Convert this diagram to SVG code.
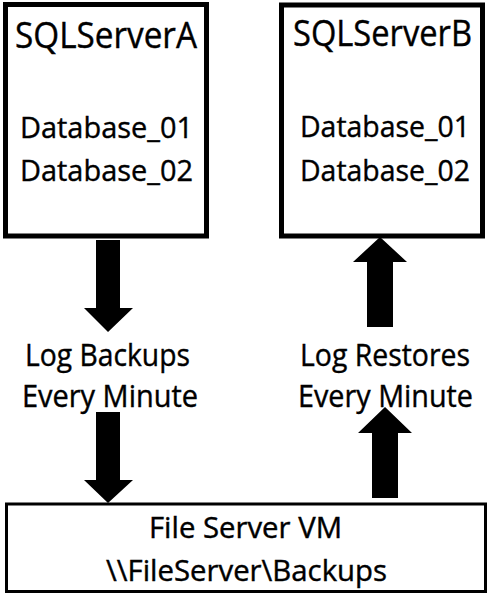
<svg xmlns="http://www.w3.org/2000/svg" width="488" height="595" viewBox="0 0 488 595">
<style>
.box{fill:#fff;stroke:#000}
.t{font-family:"Open Sans","Noto Sans",sans-serif;fill:#000;stroke:#000;stroke-width:0.4}
.arrow{fill:#000}
</style>
<rect width="488" height="595" fill="#fff"/>
<g id="sqlA">
<rect class="box" x="5.5" y="4.5" width="201" height="231.5" stroke-width="5"/>
<text class="t" x="15" y="48" font-size="36" textLength="182" lengthAdjust="spacingAndGlyphs">SQLServerA</text>
<text class="t" x="20" y="138" font-size="30" textLength="173" lengthAdjust="spacingAndGlyphs">Database_01</text>
<text class="t" x="20" y="181" font-size="30" textLength="173" lengthAdjust="spacingAndGlyphs">Database_02</text>
</g>
<g id="sqlB">
<rect class="box" x="281.5" y="5" width="201" height="231" stroke-width="5"/>
<text class="t" x="293" y="46" font-size="36" textLength="179" lengthAdjust="spacingAndGlyphs">SQLServerB</text>
<text class="t" x="300" y="137" font-size="30" textLength="170" lengthAdjust="spacingAndGlyphs">Database_01</text>
<text class="t" x="300" y="181" font-size="30" textLength="170" lengthAdjust="spacingAndGlyphs">Database_02</text>
</g>
<g id="fileserver">
<rect class="box" x="6.5" y="504" width="479" height="87.5" stroke-width="3"/>
<text class="t" x="149" y="538" font-size="28.5" textLength="193" lengthAdjust="spacingAndGlyphs">File Server VM</text>
<text class="t" x="106" y="581" font-size="28.5" textLength="281" lengthAdjust="spacingAndGlyphs">\\FileServer\Backups</text>
</g>
<g id="labels">
<text class="t" x="25" y="366" font-size="31.5" textLength="165" lengthAdjust="spacingAndGlyphs">Log Backups</text>
<text class="t" x="22" y="407" font-size="31.5" textLength="176" lengthAdjust="spacingAndGlyphs">Every Minute</text>
<text class="t" x="300" y="366" font-size="31.5" textLength="170" lengthAdjust="spacingAndGlyphs">Log Restores</text>
<text class="t" x="298" y="407" font-size="31.5" textLength="175" lengthAdjust="spacingAndGlyphs">Every Minute</text>
</g>
<g id="connectors">
<polygon class="arrow" points="96,240 120,240 120,308 133,308 108,332 84,308 96,308"/>
<polygon class="arrow" points="96,412 120,412 120,480 133,480 108,503 84,480 96,480"/>
<polygon class="arrow" points="367,327 393,327 393,262 407,262 380,237 353,262 367,262"/>
<polygon class="arrow" points="372,498 398,498 398,433 412,433 385,407 358,433 372,433"/>
</g>
</svg>
